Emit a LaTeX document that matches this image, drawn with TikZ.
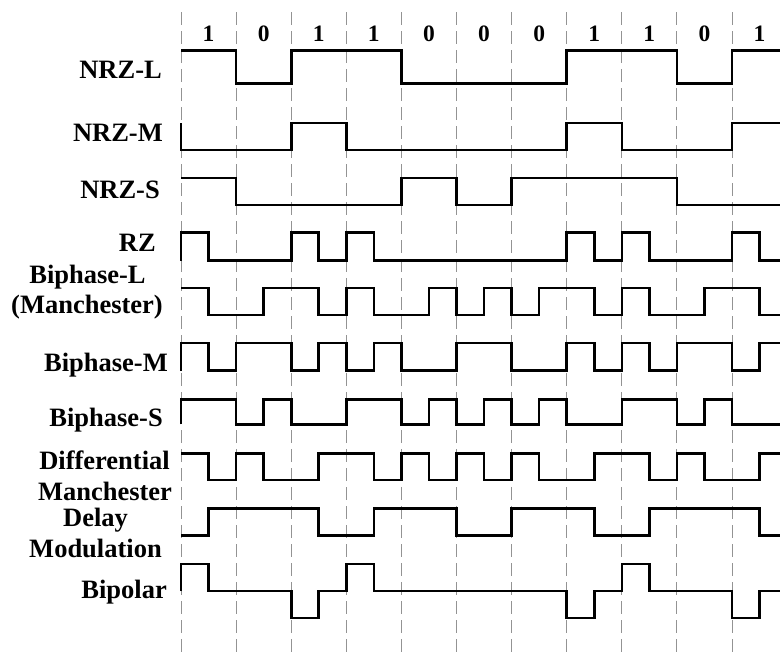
\documentclass[tikz,border=0pt]{standalone}
\usepackage{fontspec}
\setmainfont{Liberation Serif}
\begin{document}
\begin{tikzpicture}[x=1pt,y=-1pt,
  lbl/.style={inner sep=0pt,font=\fontsize{26.5}{26.5}\selectfont\bfseries},
  bitlbl/.style={inner sep=0pt,anchor=base,font=\fontsize{23.5}{23.5}\selectfont\bfseries},
  grid/.style={gray!85,line width=0.9pt,dash pattern=on 13pt off 6pt},
  wave/.style={black,line width=2.6pt,line join=miter}]
\useasboundingbox (0,0) rectangle (780,657);

% bit period boundaries
\foreach \i in {0,...,10}
  \draw[grid] (181+\i*55.1,12) -- (181+\i*55.1,657);

% bit values
\foreach \b [count=\i from 0] in {1,0,1,1,0,0,0,1,1,0,1}
  \node[bitlbl] (bit\i) at (181+\i*55.1+27.55,41.7) {\b};

% code names
\node[lbl,anchor=base east] (nrzl) at (162,78.3) {NRZ-L};
\node[lbl,anchor=base east] (nrzm) at (163,141.7) {NRZ-M};
\node[lbl,anchor=base east] (nrzs) at (160,198.3) {NRZ-S};
\node[lbl,anchor=base east] (rz) at (156,251.7) {RZ};
\node[lbl,anchor=base] (biphl) at (87.5,283.3) {Biphase-L};
\node[lbl,anchor=base] (manch) at (87,313.3) {(Manchester)};
\node[lbl,anchor=base east] (biphm) at (168,371.7) {Biphase-M};
\node[lbl,anchor=base east] (biphs) at (163,426.7) {Biphase-S};
\node[lbl,anchor=base] (diff) at (104.5,469.3) {Differential};
\node[lbl,anchor=base] (diffm) at (105,500) {Manchester};
\node[lbl,anchor=base] (delay) at (95.5,526.7) {Delay};
\node[lbl,anchor=base] (dmod) at (95.5,557.3) {Modulation};
\node[lbl,anchor=base east] (bip) at (167,598.3) {Bipolar};

% waveforms: zero level / amplitude / start level / levels per half bit
\begin{scope}[xshift=181pt,x=27.55pt]
\foreach \y/\a/\s/\lv in {
  83.3/32.6/1/{1,1,0,0,1,1,1,1,0,0,0,0,0,0,1,1,1,1,0,0,1,1},
  150/27/1/{0,0,0,0,1,1,0,0,0,0,0,0,0,0,1,1,0,0,0,0,1,1},
  205/27/1/{1,1,0,0,0,0,0,0,1,1,0,0,1,1,1,1,1,1,0,0,0,0},
  260.7/28/0/{1,0,0,0,1,0,1,0,0,0,0,0,0,0,1,0,1,0,0,0,1,0},
  315/27/1/{1,0,0,1,1,0,1,0,0,1,0,1,0,1,1,0,1,0,0,1,1,0},
  370.7/27.7/0/{1,0,1,1,0,1,0,1,0,0,1,1,0,0,1,0,1,0,1,1,0,1},
  424.3/25/0/{1,1,0,1,0,0,1,1,0,1,0,1,0,1,0,0,1,1,0,1,0,0},
  480/26.7/1/{1,0,1,0,0,1,1,0,1,0,1,0,1,0,0,1,1,0,1,0,0,1},
  535.7/27.4/0/{0,1,1,1,1,0,0,1,1,1,0,0,1,1,1,0,0,1,1,1,1,0},
  591/27/0/{1,0,0,0,-1,0,1,0,0,0,0,0,0,0,-1,0,1,0,0,0,-1,0}}
  \draw[wave] (0,{\y-\a*(\s)}) foreach \l [count=\k] in \lv { |- (\k,{\y-\a*(\l)}) };
\end{scope}
\end{tikzpicture}
\end{document}
